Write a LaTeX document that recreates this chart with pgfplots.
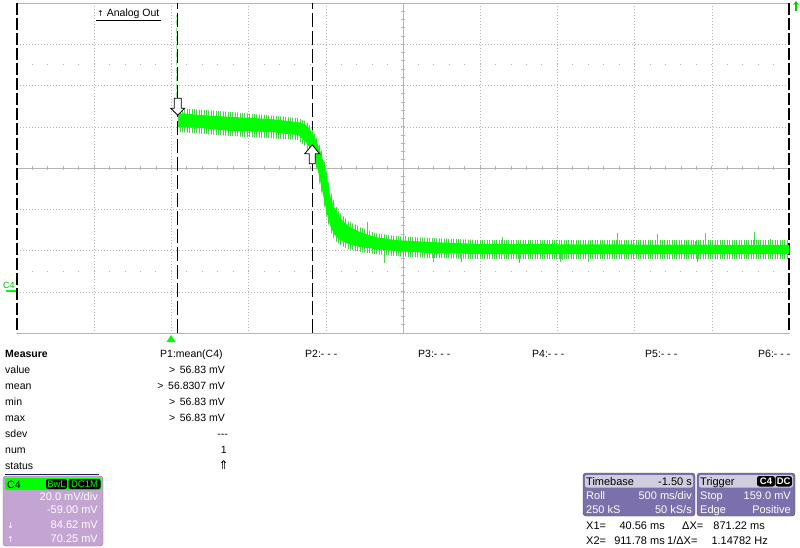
\documentclass[border=0pt]{standalone}
\usepackage{fontspec}
\setmainfont{Liberation Sans}
\newfontfamily\dejavu{DejaVu Sans}
\usepackage{pgfplots}
\pgfplotsset{compat=1.18}
\usetikzlibrary{patterns.meta,arrows.meta}

\definecolor{trace}{RGB}{0,255,0}
\definecolor{tracelt}{RGB}{70,215,70}
\definecolor{tracedash}{RGB}{140,230,140}
\definecolor{gridc}{RGB}{180,180,180}
\definecolor{lilac}{RGB}{196,164,210}
\definecolor{slate}{RGB}{124,112,172}
\definecolor{hdr}{RGB}{208,206,222}
\definecolor{navy}{RGB}{30,30,90}

\begin{document}
\begin{tikzpicture}[font=\fontsize{10.5}{12}\selectfont]
\useasboundingbox (0,0) rectangle (800pt,-547pt);

% screen grid, in screen pixels (1px = 1pt, y down)
\begin{scope}[x=1pt,y=-1pt]
  \foreach \k in {1,2,3,4,6,7,8,9}
    \draw[gridc, dash pattern=on 1pt off 2pt] ({17+77.2*\k},3) -- ({17+77.2*\k},333);
  \foreach \j in {1,2,3,5,6,7}
    \draw[gridc, dash pattern=on 1pt off 2pt] (17,{3+41.25*\j}) -- (789,{3+41.25*\j});
  % dotted rows at +-2.5 div
  \foreach \i in {1,...,49} {
    \fill[gridc] ({16.5+15.44*\i},64.4) rectangle +(1,1);
    \fill[gridc] ({16.5+15.44*\i},270.6) rectangle +(1,1);
  }
  % centre lines with ticks
  \draw[gridc, line width=1pt] (17,168) -- (789,168);
  \draw[gridc, line width=1pt] (403,3) -- (403,333);
  \foreach \i in {1,...,49}
    \draw[gridc, line width=0.8pt] ({17+15.44*\i},166) -- ({17+15.44*\i},170);
  \foreach \i in {1,...,39}
    \draw[gridc, line width=0.8pt] (401,{3+8.25*\i}) -- (405,{3+8.25*\i});
  % frame
  \draw[gridc, line width=1pt] (17,3) -- (789,3);
  \draw[gridc, line width=1pt] (17,333) -- (789,333);
  \draw[black, line width=1.2pt, dash pattern=on 12pt off 3pt] (17,3) -- (17,333);
  \draw[black, line width=1.2pt, dash pattern=on 12pt off 3pt] (789,3) -- (789,333);
\end{scope}

\begin{axis}[
  at={(17pt,-333pt)}, anchor=south west,
  width=772pt, height=330pt, scale only axis,
  xmin=-1, xmax=4, ymin=-21, ymax=139,
  hide axis, clip=false]

% cursors X1, X2
\addplot[black, line width=1.2pt, dash pattern=on 14pt off 4pt]
  coordinates {(0.04056,-21) (0.04056,139)};
\addplot[black, line width=1.2pt, dash pattern=on 14pt off 4pt]
  coordinates {(0.91178,-21) (0.91178,139)};

% start of trace
\addplot[tracedash, line width=1.5pt, dash pattern=on 5pt off 3pt]
  coordinates {(0.033,89.55) (0.033,133.18)};

% noise envelope (spikes)
\addplot[draw=none, pattern={Lines[angle=90,distance=2.4pt,line width=1pt]}, pattern color=tracelt]
  coordinates {
  (0.043,88.09) (0.393,86.15) (0.820,83.24) (0.872,81.79) (0.904,78.88)
  (0.937,74.51) (0.962,69.67) (0.988,63.85) (1.008,56.57) (1.027,48.82)
  (1.053,42.52) (1.092,37.19) (1.144,33.30) (1.222,30.39) (1.319,27.48)
  (1.448,26.03) (1.675,25.06) (1.999,24.09) (4.0,24.09)
  (4.0,14.88) (1.999,14.88) (1.675,15.36) (1.448,16.33) (1.319,17.30)
  (1.222,18.27) (1.144,19.73) (1.092,21.67) (1.053,24.58) (1.027,28.94)
  (1.008,34.27) (0.988,41.55) (0.962,50.73) (0.937,59.48) (0.904,65.30)
  (0.872,69.18) (0.820,72.58) (0.393,74.51) (0.043,76.45)
  } -- cycle;

% trace core
\addplot[draw=none, fill=trace]
  coordinates {
  (0.043,85.67) (0.185,84.70) (0.393,83.73) (0.639,82.76) (0.820,81.30)
  (0.872,79.85) (0.904,76.94) (0.937,72.58) (0.962,67.73) (0.988,61.42)
  (1.008,54.15) (1.027,45.91) (1.053,40.09) (1.092,34.76) (1.144,30.88)
  (1.222,27.97) (1.319,25.55) (1.448,24.09) (1.675,23.12) (1.999,22.15)
  (4.0,21.67)
  (4.0,17.30) (1.999,17.30) (1.675,17.79) (1.448,18.76) (1.319,19.73)
  (1.222,20.70) (1.144,22.15) (1.092,24.09) (1.053,27.00) (1.027,31.36)
  (1.008,36.70) (0.988,43.97) (0.962,53.18) (0.937,61.91) (0.904,67.73)
  (0.872,71.61) (0.820,75.00) (0.639,76.45) (0.393,76.94) (0.185,78.40)
  (0.043,78.88)
  } -- cycle;

% single spikes
\addplot[tracelt, line width=0.9pt, unbounded coords=jump]
  coordinates {
  (0.043,80) (0.043,91.97) (0.043,nan)
  (1.267,21.67) (1.267,32.82) (1.267,nan)
  (1.513,21.67) (1.513,26.03) (1.513,nan)
  (2.141,21.67) (2.141,25.55) (2.141,nan)
  (2.666,21.67) (2.666,23.61) (2.666,nan)
  (2.886,21.67) (2.886,27.48) (2.886,nan)
  (3.009,21.67) (3.009,24.09) (3.009,nan)
  (3.145,21.67) (3.145,27.00) (3.145,nan)
  (3.391,21.67) (3.391,23.61) (3.391,nan)
  (3.462,21.67) (3.462,27.48) (3.462,nan)
  (3.773,21.67) (3.773,27.97) (3.773,nan)
  (3.883,21.67) (3.883,24.58) (3.883,nan)
  (1.377,17.30) (1.377,12.94) (1.377,nan)
  (1.694,17.30) (1.694,13.42) (1.694,nan)
  (1.876,17.30) (1.876,13.42) (1.876,nan)
  (2.251,17.30) (2.251,12.94) (2.251,nan)
  (2.517,17.30) (2.517,13.42) (2.517,nan)
  (2.533,17.30) (2.533,14.40) (2.533,nan)
  (2.698,17.30) (2.698,13.42) (2.698,nan)
  (3.404,17.30) (3.404,13.42)
  };

% cursor arrows
\draw[draw=black, fill=white, line width=0.8pt] (axis cs:0.04056,84.62)
  -- ++(-7pt,7pt) -- ++(3.5pt,0pt) -- ++(0pt,10pt) -- ++(7pt,0pt) -- ++(0pt,-10pt) -- ++(3.5pt,0pt) -- cycle;
\draw[draw=black, fill=white, line width=0.8pt] (axis cs:0.91178,70.25)
  -- ++(-7.5pt,-9pt) -- ++(4.5pt,0pt) -- ++(0pt,-10pt) -- ++(6pt,0pt) -- ++(0pt,10pt) -- ++(4.5pt,0pt) -- cycle;
\end{axis}

\begin{scope}[x=1pt,y=-1pt]
  % markers on the screen
  \node[anchor=base west, inner sep=0] at (97,16) {{\dejavu\fontsize{8}{9}\selectfont ↑} Analog Out};
  \draw[black, line width=0.8pt] (96,20) -- (161,20);
  \node[anchor=base west, inner sep=0, text=trace!75!black, font=\fontsize{9}{10}\selectfont] at (3,288) {C4};
  \draw[trace, line width=2pt] (6,291) -- (16,291);
  \fill[trace] (166.5,342) -- (175.5,342) -- (171,335) -- cycle;
  \draw[trace!80!black, line width=1.2pt, -{Stealth[length=4pt,width=6pt]}] (796,11) -- (796,1);

  % measure table
  \node[anchor=base west, inner sep=0, font=\fontsize{10.5}{12}\bfseries] at (5,357) {Measure};
  \node[anchor=base west, inner sep=0] at (160,357) {P1:mean(C4)};
  \node[anchor=base west, inner sep=0] at (305,357) {P2:- - -};
  \node[anchor=base west, inner sep=0] at (418,357) {P3:- - -};
  \node[anchor=base west, inner sep=0] at (532,357) {P4:- - -};
  \node[anchor=base west, inner sep=0] at (645,357) {P5:- - -};
  \node[anchor=base west, inner sep=0] at (758,357) {P6:- - -};
  \foreach \lab/\yy in {value/373, mean/389, min/405, max/421, sdev/437, num/453, status/469}
    \node[anchor=base west, inner sep=0] at (5,\yy) {\lab};
  \node[anchor=base east, inner sep=0] at (225,373) {>\, 56.83 mV};
  \node[anchor=base east, inner sep=0] at (225,389) {>\, 56.8307 mV};
  \node[anchor=base east, inner sep=0] at (225,405) {>\, 56.83 mV};
  \node[anchor=base east, inner sep=0] at (225,421) {>\, 56.83 mV};
  \node[anchor=base east, inner sep=0] at (228,437) {-{}-{}-};
  \node[anchor=base east, inner sep=0] at (227,453) {1};
  \node[anchor=base east, inner sep=0] at (229,469.5) {\dejavu\fontsize{12}{13}\selectfont ⇑};
  \draw[navy, line width=1pt] (5,474) -- (99,474);

  % channel box
  \draw[rounded corners=3pt, fill=lilac, draw=lilac!70!black] (3,476) rectangle (103,546);
  \fill[trace, rounded corners=2pt] (5,478) rectangle (101,490);
  \node[anchor=base west, inner sep=0] at (7,488) {C4};
  \fill[black, rounded corners=2pt] (46,479) rectangle (67,489);
  \fill[black, rounded corners=2pt] (68.5,479) rectangle (100.5,489);
  \node[anchor=base, inner sep=0, text=trace, font=\fontsize{9.5}{10}\selectfont] at (56.5,487.5) {BwL};
  \node[anchor=base, inner sep=0, text=trace, font=\fontsize{9.5}{10}\selectfont] at (84.5,487.5) {DC1M};
  \begin{scope}[every node/.style={anchor=base east, inner sep=0, text=white, font=\fontsize{11}{12}\selectfont}]
    \node at (98,500) {20.0 mV/div};
    \node at (98,513) {-59.00 mV};
    \node at (98,528) {84.62 mV};
    \node at (98,542) {70.25 mV};
  \end{scope}
  \node[anchor=base west, inner sep=0, text=white, font=\dejavu\fontsize{8}{9}\selectfont] at (7,528) {↓};
  \node[anchor=base west, inner sep=0, text=white, font=\dejavu\fontsize{8}{9}\selectfont] at (7,542) {↑};

  % timebase box
  \draw[rounded corners=3pt, fill=slate, draw=slate!60!black] (583,473) rectangle (695,516);
  \fill[hdr, rounded corners=2pt] (585,475) rectangle (693,487.5);
  \node[anchor=base west, inner sep=0, font=\fontsize{11}{12}\selectfont] at (586,485) {Timebase};
  \node[anchor=base east, inner sep=0, font=\fontsize{11}{12}\selectfont] at (692,485) {-1.50 s};
  \begin{scope}[every node/.style={inner sep=0, text=white, font=\fontsize{11}{12}\selectfont}]
    \node[anchor=base west] at (586,499) {Roll};
    \node[anchor=base east] at (692,499) {500 ms/div};
    \node[anchor=base west] at (586,513) {250 kS};
    \node[anchor=base east] at (692,513) {50 kS/s};
  \end{scope}

  % trigger box
  \draw[rounded corners=3pt, fill=slate, draw=slate!60!black] (697,473) rectangle (795,516);
  \fill[hdr, rounded corners=2pt] (699,475) rectangle (793,487.5);
  \node[anchor=base west, inner sep=0, font=\fontsize{11}{12}\selectfont] at (700,485) {Trigger};
  \fill[black, rounded corners=2.5pt] (757,476) rectangle (775,486.5);
  \fill[black, rounded corners=2.5pt] (775.5,476) rectangle (792,486.5);
  \node[anchor=base, inner sep=0, text=white, font=\fontsize{9.5}{10}\bfseries] at (766,484.5) {C4};
  \node[anchor=base, inner sep=0, text=white, font=\fontsize{9.5}{10}\bfseries] at (783.7,484.5) {DC};
  \begin{scope}[every node/.style={inner sep=0, text=white, font=\fontsize{11}{12}\selectfont}]
    \node[anchor=base west] at (700,499) {Stop};
    \node[anchor=base east] at (791,499) {159.0 mV};
    \node[anchor=base west] at (700,513) {Edge};
    \node[anchor=base east] at (791,513) {Positive};
  \end{scope}

  % cursor readout
  \begin{scope}[every node/.style={inner sep=0, font=\fontsize{11}{12}\selectfont}]
    \node[anchor=base west] at (586,529) {X1=};
    \node[anchor=base east] at (665,529) {40.56 ms};
    \node[anchor=base west] at (682,529) {ΔX=};
    \node[anchor=base east] at (765,529) {871.22 ms};
    \node[anchor=base west] at (586,544) {X2=};
    \node[anchor=base east] at (665,544) {911.78 ms};
    \node[anchor=base west] at (667,544) {1/ΔX=};
    \node[anchor=base east] at (768,544) {1.14782 Hz};
  \end{scope}
\end{scope}
\end{tikzpicture}
\end{document}
